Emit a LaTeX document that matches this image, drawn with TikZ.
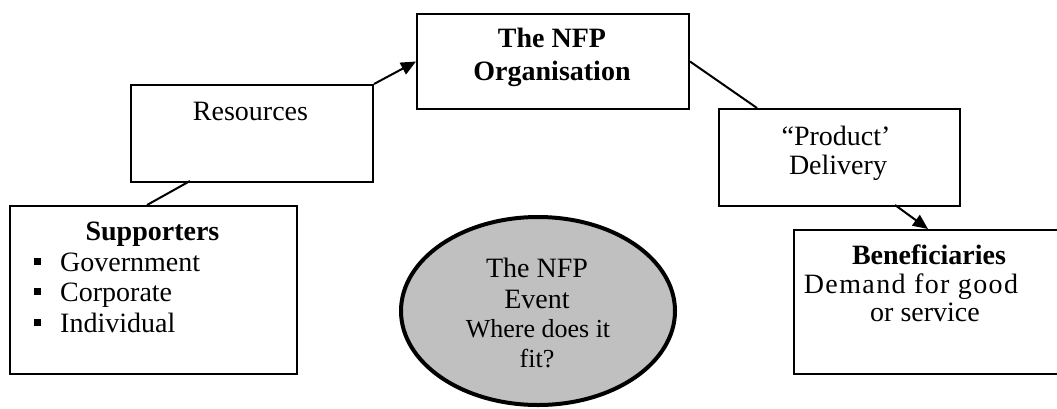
\documentclass[tikz,border=0pt]{standalone}
\usepackage{fontspec}
\setmainfont{Liberation Serif}
\usetikzlibrary{shapes.geometric,arrows.meta}
\begin{document}
\begin{tikzpicture}[x=1pt,y=-1pt,
  boxnode/.style={draw,line width=2pt,rectangle,inner sep=0pt,anchor=north west},
  txt/.style={inner sep=0pt,anchor=base,font=\fontsize{28}{31}\selectfont},
  btxt/.style={txt,font=\fontsize{28}{31}\selectfont\bfseries},
  stxt/.style={txt,font=\fontsize{26}{29}\selectfont},
  bullet/.style={fill=black,inner sep=0pt,minimum size=7pt,rectangle},
  conn/.style={line width=2pt},
  arr/.style={conn,-{Triangle[length=15pt,width=13pt]}}]
\clip (0,0) rectangle (1057,408);
\fill[white] (0,0) rectangle (1057,408);
% boxes
\node[boxnode,minimum width=287pt,minimum height=168pt] (sup) at (9,205) {};
\node[boxnode,minimum width=242pt,minimum height=97pt] (res) at (130,84) {};
\node[boxnode,minimum width=272pt,minimum height=95pt] (org) at (416,13) {};
\node[boxnode,minimum width=241pt,minimum height=97pt] (prod) at (718,108) {};
\node[boxnode,minimum width=270pt,minimum height=144pt] (ben) at (793,229) {};
\node[draw,ellipse,line width=4pt,fill={rgb,255:red,192;green,192;blue,192},
  minimum width=274pt,minimum height=188pt,inner sep=0pt] (evt) at (538,311) {};
% texts
\node[txt] (tres) at (250.5,120) {Resources};
\node[btxt] (torg1) at (552,47) {The NFP};
\node[btxt] (torg2) at (552,80) {Organisation};
\node[txt] (tprod1) at (836,145) {“Product’};
\node[txt] (tprod2) at (838,174) {Delivery};
\node[btxt] (tben1) at (929,264) {Beneficiaries};
\node[txt] (tben2) at (911,293) {\addfontfeature{LetterSpace=5}Demand for good};
\node[txt] (tben3) at (925,321) {or service};
\node[btxt] (tsup) at (152.5,240) {Supporters};
\node[txt,anchor=base west] (tsup1) at (60,271) {Government};
\node[txt,anchor=base west] (tsup2) at (60,301.5) {Corporate};
\node[txt,anchor=base west] (tsup3) at (60,332.5) {Individual};
\node[bullet] (b1) at (37,261) {};
\node[bullet] (b2) at (37,291.5) {};
\node[bullet] (b3) at (37,322.5) {};
\node[txt] (tevt1) at (537,277.5) {The NFP};
\node[txt] (tevt2) at (537,308) {Event};
\node[stxt] (tevt3) at (538,337) {Where does it};
\node[stxt] (tevt4) at (537,367.5) {fit?};
% connector end points
\coordinate (supTop) at (147,205);
\coordinate (resBot) at (190,181);
\coordinate (prodTop) at (757,108);
\coordinate (prodBot) at (895,205);
\coordinate (benTop) at (928,229);
% connectors
\draw[conn] (supTop) -- (resBot);
\draw[arr] (res.north east) -- (org.west);
\draw[conn] (org.east) -- (prodTop);
\draw[arr] (prodBot) -- (benTop);
\end{tikzpicture}
\end{document}
